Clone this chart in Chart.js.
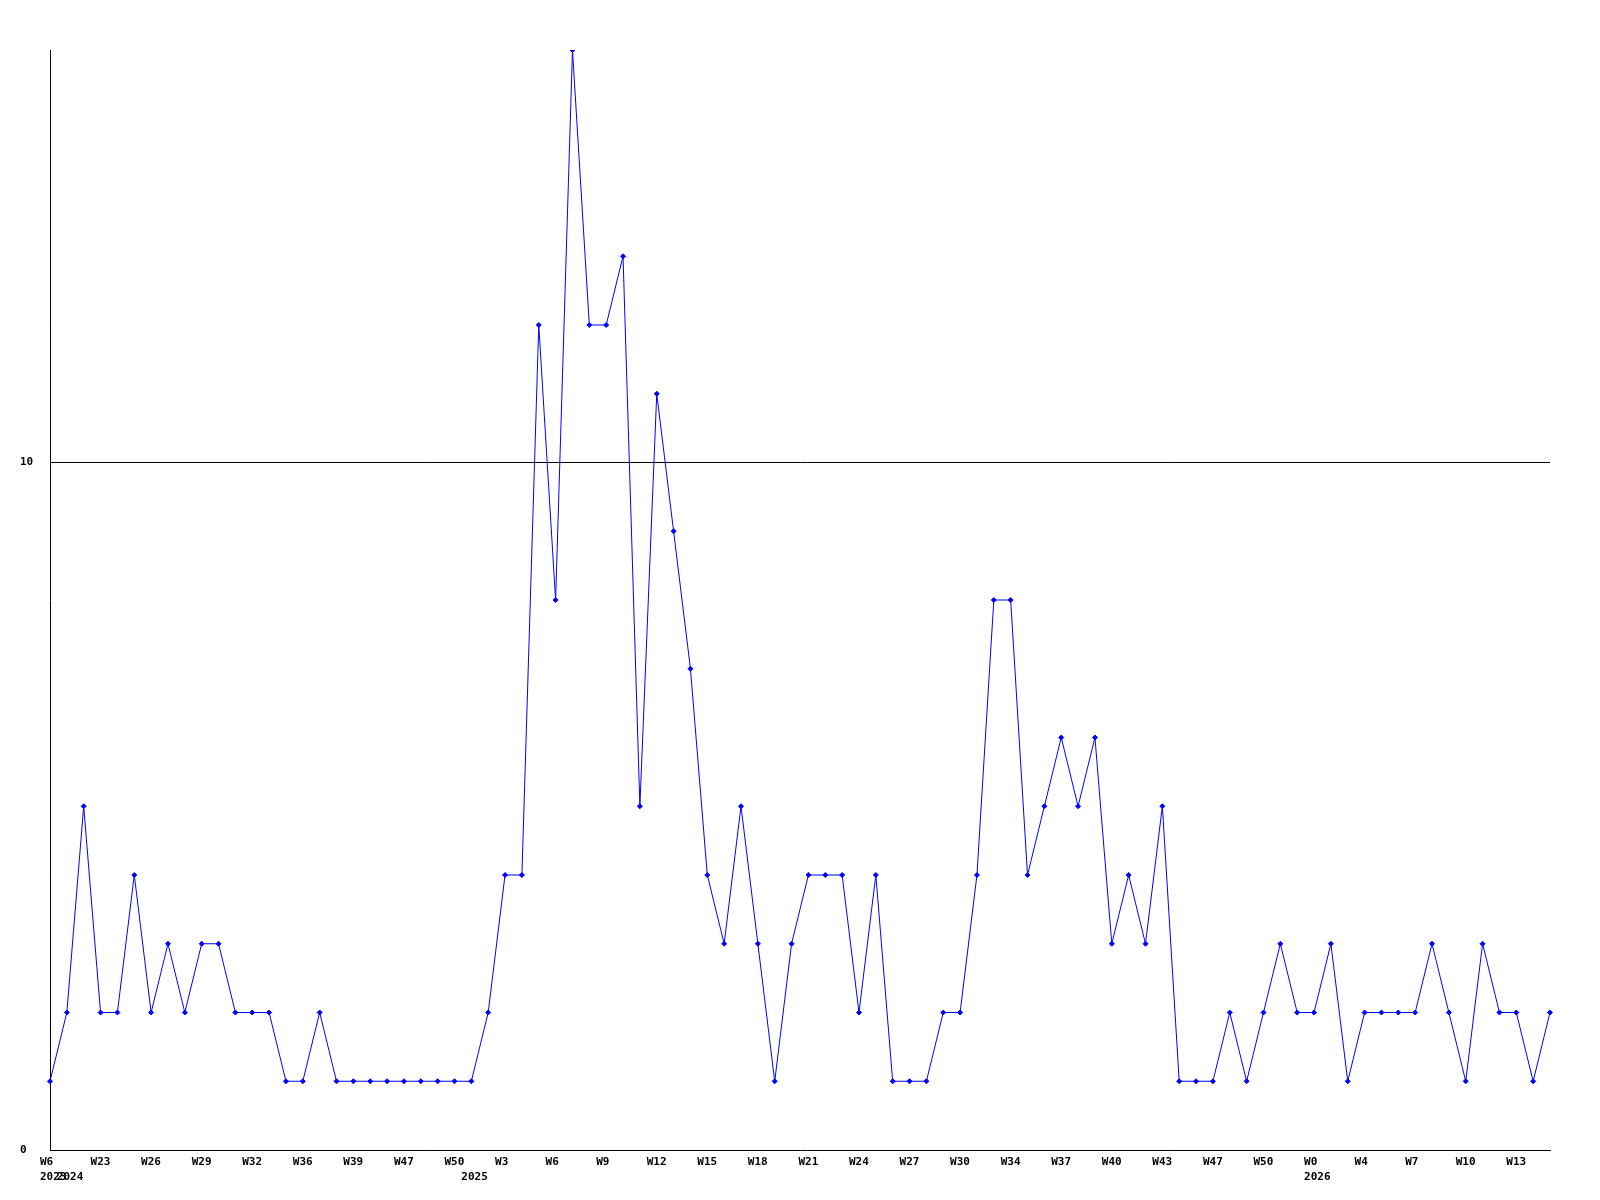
<!DOCTYPE html>
<html lang="en">
  <head>
    <meta charset="UTF-8" />
    <title>Weekly count</title>
    <script src="https://cdn.jsdelivr.net/npm/chart.js"></script>
    <style>
      html, body { margin: 0; padding: 0; background: #fff; }
    </style>
  </head>
  <body>
    <canvas id="weekChart" width="1600" height="1200"></canvas>

    <script>
      // weekly values, one per point
      const counts = [
        1, 2, 5, 2, 2, 4, 2, 3, 2, 3, 3, 2, 2, 2, 1, 1, 2, 1, 1, 1,
        1, 1, 1, 1, 1, 1, 2, 4, 4, 12, 8, 16, 12, 12, 13, 5, 11, 9, 7, 4,
        3, 5, 3, 1, 3, 4, 4, 4, 2, 4, 1, 1, 1, 2, 2, 4, 8, 8, 4, 5,
        6, 5, 6, 3, 4, 3, 5, 1, 1, 1, 2, 1, 2, 3, 2, 2, 3, 1, 2, 2,
        2, 2, 3, 2, 1, 3, 2, 2, 1, 2,
      ];

      // week label on every third point
      const weekTicks = [
        "W6", "W23", "W26", "W29", "W32", "W36", "W39", "W47", "W50", "W3",
        "W6", "W9", "W12", "W15", "W18", "W21", "W24", "W27", "W30", "W34",
        "W37", "W40", "W43", "W47", "W50", "W0", "W4", "W7", "W10", "W13",
      ];
      const yearIndex = [0, 1, 25, 75];
      const yearNames = ["2023", "2024", "2025", "2026"];
      const yTicks = [0, 10];

      const labels = counts.map((v, i) => {
        const week = i % 3 === 0 ? weekTicks[i / 3] : "";
        const y = yearIndex.indexOf(i);
        return y >= 0 ? [week, yearNames[y]] : week;
      });

      const tickFont = { family: "DejaVu Sans Mono", size: 11, weight: "bold", lineHeight: 1.35 };

      new Chart(document.getElementById("weekChart"), {
        type: "line",
        data: {
          labels: labels,
          datasets: [
            {
              data: counts,
              borderColor: "#0000ff",
              backgroundColor: "#0000ff",
              borderWidth: 1,
              pointStyle: "rectRot",
              pointRadius: 2.5,
              pointBorderWidth: 1,
              tension: 0,
              fill: false,
            },
          ],
        },
        options: {
          responsive: false,
          animation: false,
          layout: { padding: { top: 50, right: 50, left: 20, bottom: 0 } },
          plugins: {
            legend: { display: false },
            tooltip: { enabled: false },
          },
          scales: {
            x: {
              offset: false,
              grid: { color: "rgba(0,0,0,0)", drawTicks: false },
              border: { display: true, color: "#000", width: 1 },
              ticks: {
                autoSkip: false,
                maxRotation: 0,
                minRotation: 0,
                align: "start",
                labelOffset: -10,
                padding: 5,
                color: "#000",
                font: tickFont,
              },
              afterFit: (axis) => { axis.height = 50; },
            },
            y: {
              min: 0,
              max: 16,
              afterBuildTicks: (axis) => {
                axis.ticks = yTicks.map((v) => ({ value: v }));
              },
              grid: {
                drawTicks: false,
                color: (ctx) => (ctx.tick && ctx.tick.value === 10 ? "#000" : "rgba(0,0,0,0)"),
              },
              border: { display: true, color: "#000", width: 1 },
              ticks: {
                crossAlign: "far",
                padding: 0,
                color: "#000",
                font: tickFont,
              },
              afterFit: (axis) => { axis.width = 30; },
            },
          },
        },
      });
    </script>
  </body>
</html>
